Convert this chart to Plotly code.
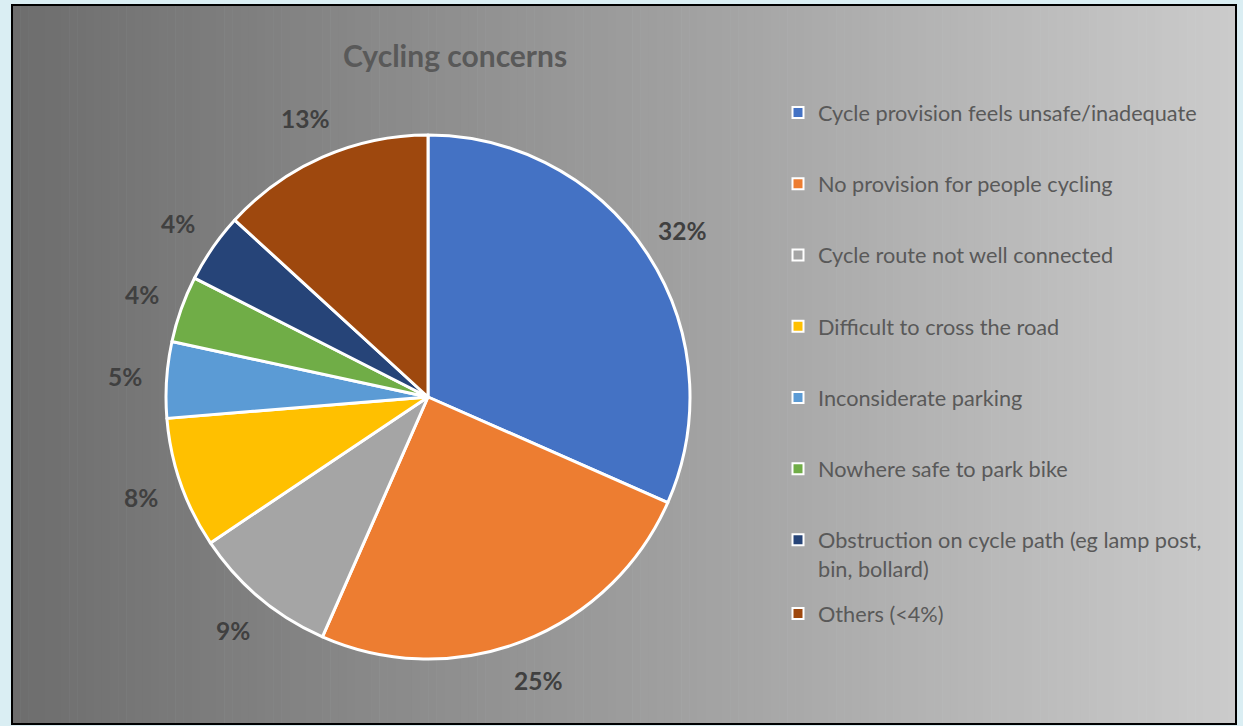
import math
import plotly.graph_objects as go

# ---- data ----
categories = [
    "Cycle provision feels unsafe/inadequate",
    "No provision for people cycling",
    "Cycle route not well connected",
    "Difficult to cross the road",
    "Inconsiderate parking",
    "Nowhere safe to park bike",
    "Obstruction on cycle path (eg lamp post,<br>bin, bollard)",
    "Others (<4%)",
]
values = [31.6, 25.0, 9.0, 8.1, 4.7, 4.1, 4.3, 13.2]
colors = ["#4472C4", "#ED7D31", "#A5A5A5", "#FFC000", "#5B9BD5", "#70AD47", "#264478", "#9E480E"]
title_text = "Cycling concerns"

W, H = 1243, 726
FONT = "Lato, 'Open Sans', sans-serif"
TXT = "#595959"

fig = go.Figure()

# pie
cx, cy, R = 428, 397, 262
fig.add_trace(go.Pie(
    labels=categories, values=values, sort=False, direction="clockwise", rotation=0,
    marker=dict(colors=colors, line=dict(color="white", width=3)),
    textinfo="none", hoverinfo="label+percent", showlegend=False,
    domain=dict(x=[(cx - R) / W, (cx + R) / W], y=[(H - cy - R) / H, (H - cy + R) / H]),
))

# legend proxies
for i, (c, col) in enumerate(zip(categories, colors)):
    fig.add_trace(go.Scatter(
        x=[None], y=[None], mode="markers", name=c,
        marker=dict(symbol="square", size=11, color=col, line=dict(color="white", width=2)),
        legendgroup=f"g{i}", legend="legend2" if i == len(categories) - 1 else "legend",
        hoverinfo="skip",
    ))

# percentage labels around the pie
total = sum(values)
annotations = []
cum = 0.0
rl = 304
for v in values:
    mid = (cum + v / 2) / total * 2 * math.pi
    cum += v
    px = cx + rl * math.sin(mid)
    py = cy - rl * math.cos(mid)
    annotations.append(dict(
        x=px / W, y=(H - py) / H, xref="paper", yref="paper", showarrow=False,
        text=f"{round(v / total * 100)}%", xanchor="center", yanchor="middle",
        font=dict(family=FONT, size=24.5, color="#404040", weight="bold"),
    ))

annotations.append(dict(
    x=455 / W, y=(H - 55) / H, xref="paper", yref="paper", showarrow=False,
    text=f"<b>{title_text}</b>", xanchor="center", yanchor="middle",
    font=dict(family=FONT, size=30, color=TXT),
))

# gradient background panel
shapes = []
x0, x1, y0, y1 = 12, 1236, 5, 724
n = 150
c0, c1 = 0x6D, 0xCB
for k in range(n):
    g = round(c0 + (c1 - c0) * (k + 0.5) / n)
    shapes.append(dict(
        type="rect", xref="paper", yref="paper", layer="below",
        x0=(x0 + (x1 - x0) * k / n) / W, x1=(x0 + (x1 - x0) * (k + 1) / n + 0.6) / W,
        y0=(H - y1) / H, y1=(H - y0) / H,
        fillcolor=f"rgb({g},{g},{g})", line=dict(width=0),
    ))
shapes.append(dict(
    type="rect", xref="paper", yref="paper", layer="below",
    x0=x0 / W, x1=x1 / W, y0=(H - y1) / H, y1=(H - y0) / H,
    line=dict(color="black", width=2), fillcolor="rgba(0,0,0,0)",
))

legend_font = dict(family=FONT, size=21.7, color=TXT)
fig.update_layout(
    width=W, height=H,
    margin=dict(l=0, r=0, t=0, b=0),
    paper_bgcolor="#DAEEF3", plot_bgcolor="rgba(0,0,0,0)",
    xaxis=dict(visible=False), yaxis=dict(visible=False),
    shapes=shapes, annotations=annotations,
    legend=dict(x=778 / W, y=(H - 92) / H, xanchor="left", yanchor="top",
                bgcolor="rgba(0,0,0,0)", font=legend_font, tracegroupgap=40,
                itemwidth=30, valign="top", itemclick=False, itemdoubleclick=False),
    legend2=dict(x=778 / W, y=(H - 593) / H, xanchor="left", yanchor="top",
                 bgcolor="rgba(0,0,0,0)", font=legend_font, valign="top",
                 itemwidth=30, itemclick=False, itemdoubleclick=False),
    showlegend=True,
)

fig.write_html("out.html", config={"displayModeBar": False},
               post_script="document.body.style.margin='0px';")
